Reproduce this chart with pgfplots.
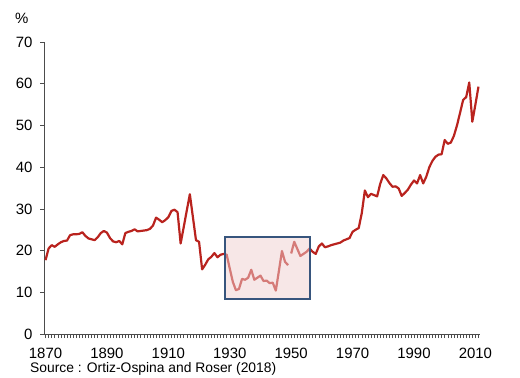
\documentclass[border=0pt]{standalone}
\usepackage{pgfplots}
\pgfplotsset{compat=1.18}
\usepackage{fontspec}
\setmainfont{Liberation Sans}
\definecolor{lred}{RGB}{185,35,30}
\definecolor{boxpink}{RGB}{242,215,215}
\definecolor{boxblue}{RGB}{55,85,125}
\begin{document}
\begin{tikzpicture}
\path[use as bounding box] (0,0) rectangle (520bp,378bp);
\begin{axis}[
  at={(44bp,44bp)}, anchor=south west,
  scale only axis, width=436bp, height=292bp,
  xmin=1869.5, xmax=2011.5, ymin=0, ymax=70,
  axis x line=bottom, axis y line=left,
  axis line style={-, black!70, line width=0.6pt},
  xtick={1870,1890,...,2010},
  minor xtick={1870,1871,...,2011},
  ytick={0,10,...,70},
  tick style={black!70, line width=0.5pt},
  major tick length=4bp, minor tick length=4bp,
  xtick align=outside, ytick align=outside,
  tick pos=left,
  xticklabel style={font=\fontsize{15}{17}\selectfont, anchor=north, yshift=-7bp},
  yticklabel style={font=\fontsize{15}{17}\selectfont, anchor=east, xshift=-4bp},
  /pgf/number format/assume math mode=true,
  /pgf/number format/1000 sep={},
  clip=false,
  unbounded coords=jump,
]
\fill[boxpink] (axis cs:1928.45,8.4) rectangle (axis cs:1956.1,23.26);
\addplot[lred, line width=2.2pt, line join=round] coordinates {
(1870,17.7)(1871,20.5)(1872,21.3)(1873,20.9)(1874,21.5)(1875,22.0)(1876,22.3)(1877,22.4)(1878,23.7)(1879,23.9)
(1880,23.9)(1881,24.0)(1882,24.4)(1883,23.5)(1884,22.9)(1885,22.7)(1886,22.5)(1887,23.2)(1888,24.2)(1889,24.7)
(1890,24.3)(1891,23.0)(1892,22.2)(1893,22.0)(1894,22.3)(1895,21.5)(1896,24.2)(1897,24.5)(1898,24.7)(1899,25.1)
(1900,24.6)(1901,24.7)(1902,24.8)(1903,24.9)(1904,25.2)(1905,26.0)(1906,27.9)(1907,27.4)(1908,26.8)(1909,27.3)
(1910,28.0)(1911,29.5)(1912,29.8)(1913,29.2)(1914,21.7)(1915,25.6)(1916,29.6)(1917,33.5)(1918,28.0)(1919,22.5)
(1920,22.1)(1921,15.5)(1922,16.6)(1923,17.9)(1924,18.5)(1925,19.4)(1926,18.4)(1927,19.0)(1928,19.2)(1929,19.0)
(1930,15.7)(1931,12.5)(1932,10.5)(1933,10.8)(1934,13.2)(1935,13.0)(1936,13.5)(1937,15.4)(1938,13.0)(1939,13.5)
(1940,14.0)(1941,12.7)(1942,12.8)(1943,12.2)(1944,12.3)(1945,10.4)(1946,15.1)(1947,19.9)(1948,17.3)(1949,16.5)
(1949.5,nan)
(1950,19.3)(1951,22.1)(1952,20.4)(1953,18.7)(1954,19.2)(1955,19.7)(1956,20.5)(1957,19.7)(1958,19.2)(1959,21.0)
(1960,21.7)(1961,20.8)(1962,21.0)(1963,21.3)(1964,21.5)(1965,21.7)(1966,21.9)(1967,22.4)(1968,22.7)(1969,23.0)
(1970,24.5)(1971,25.0)(1972,25.4)(1973,29.0)(1974,34.4)(1975,32.8)(1976,33.6)(1977,33.3)(1978,33.0)(1979,36.0)
(1980,38.1)(1981,37.3)(1982,36.2)(1983,35.3)(1984,35.4)(1985,34.9)(1986,33.1)(1987,33.8)(1988,34.6)(1989,35.8)
(1990,36.8)(1991,36.1)(1992,38.1)(1993,36.1)(1994,37.7)(1995,40.0)(1996,41.5)(1997,42.5)(1998,43.0)(1999,43.1)
(2000,46.5)(2001,45.6)(2002,45.9)(2003,47.5)(2004,50.0)(2005,53.0)(2006,56.1)(2007,56.8)(2008,60.3)(2009,50.9)
(2010,55.0)(2011,59.3)
};
\fill[white, fill opacity=0.4] (axis cs:1928.45,8.4) rectangle (axis cs:1956.1,23.26);
\draw[boxblue, line width=1.5pt] (axis cs:1928.45,8.4) rectangle (axis cs:1956.1,23.26);
\end{axis}
\node[anchor=base west, inner sep=0pt, font=\fontsize{15}{17}\selectfont] at (15bp,354bp) {\%};
\node[anchor=base west, inner sep=0pt, font=\fontsize{13.9}{16}\selectfont] at (30bp,6bp) {Source : Ortiz-Ospina and Roser (2018)};
\end{tikzpicture}
\end{document}
